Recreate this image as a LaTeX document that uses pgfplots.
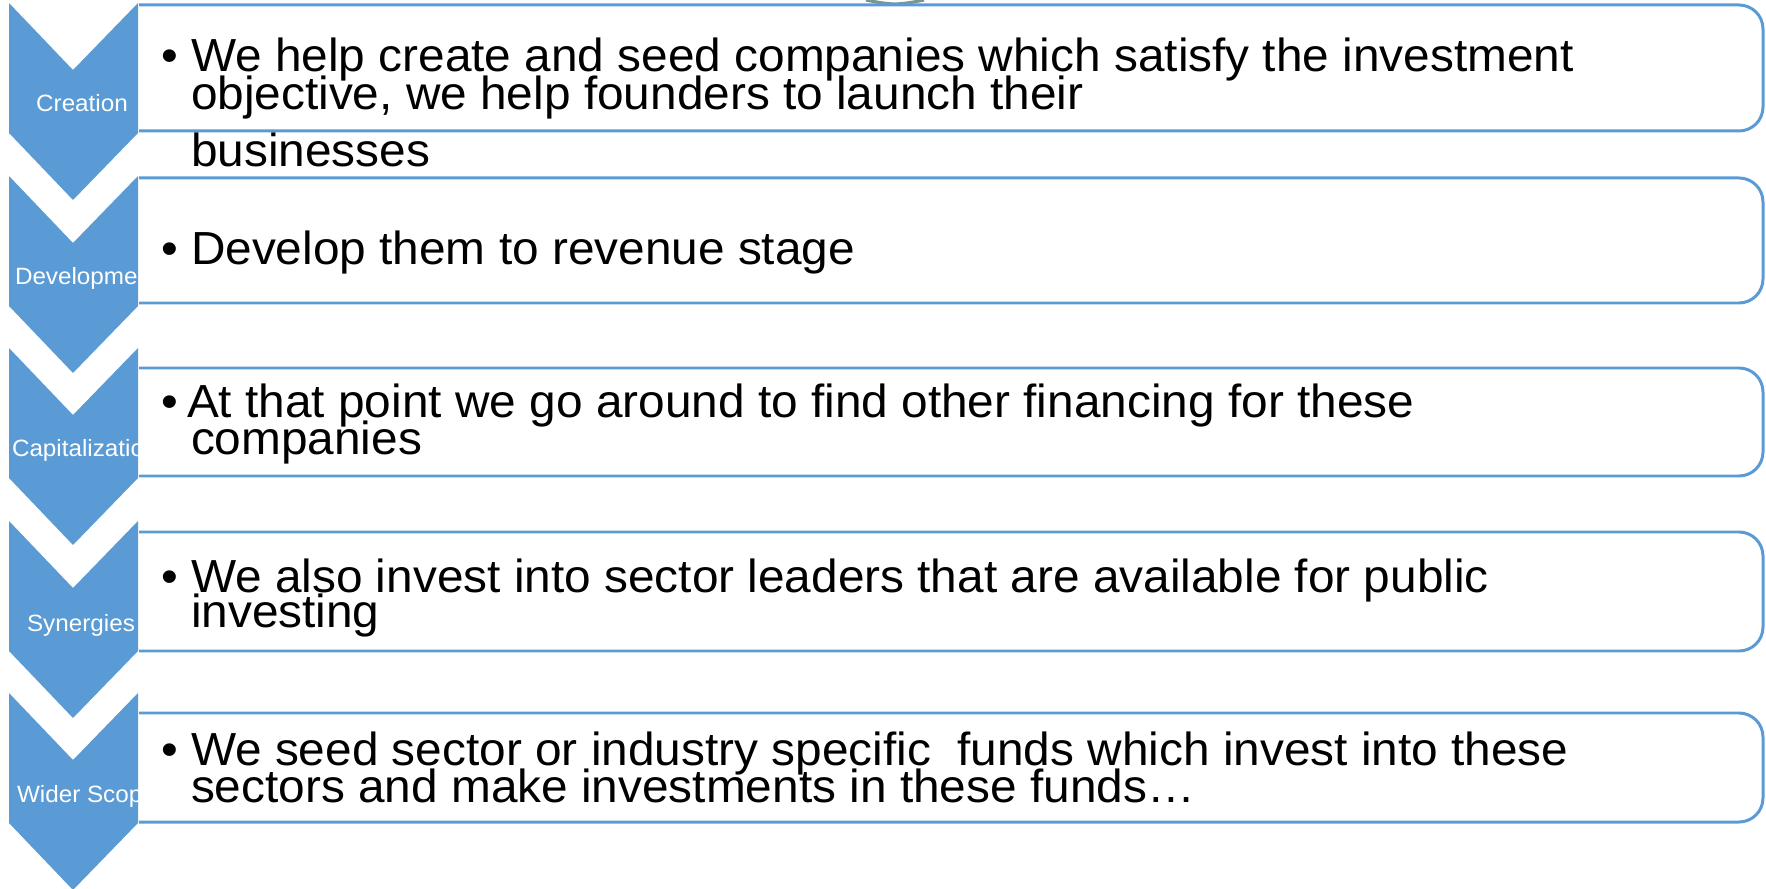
\documentclass[border=0pt]{standalone}
\usepackage{pgfplots}
\pgfplotsset{compat=1.18}
\usepackage{fontspec}
\setmainfont{Liberation Sans}[FakeStretch=1.03]
\definecolor{chev}{RGB}{91,155,213}
\definecolor{ring}{RGB}{120,150,150}
% 1 unit = 1 px of the 1766x889 reference
\newcommand{\boxfont}{\fontsize{13.2}{15}\selectfont}
\newcommand{\labfont}{\fontsize{6.7}{8}\selectfont}
\tikzset{lbl/.style={inner sep=0pt, outer sep=0pt, text=white, font=\labfont},
         txt/.style={inner sep=0pt, outer sep=0pt, anchor=base west, font=\boxfont}}
\begin{document}
\begin{tikzpicture}
\begin{axis}[
    width=17.66cm, height=8.89cm, scale only axis,
    xmin=0, xmax=1766, ymin=0, ymax=889, y dir=reverse,
    hide axis, clip=true,
]
\addplot[draw=none] coordinates {(0,0) (1766,889)};
% chevrons
\addplot[fill=chev, draw=none] coordinates {(9,3) (73,70) (138,3) (138,133) (73,200) (9,133)} -- cycle;
\addplot[fill=chev, draw=none] coordinates {(9,176) (73,243) (138,176) (138,306) (73,373) (9,306)} -- cycle;
\addplot[fill=chev, draw=none] coordinates {(9,348) (73,415) (138,348) (138,478) (73,545) (9,478)} -- cycle;
\addplot[fill=chev, draw=none] coordinates {(9,521) (73,588) (138,521) (138,651) (73,718) (9,651)} -- cycle;
\addplot[fill=chev, draw=none] coordinates {(9,693) (73,760) (138,693) (138,823) (73,890) (9,823)} -- cycle;
% chevron labels
\node[lbl, anchor=base] at (axis cs:82,112) {Creation};
\node[lbl, anchor=base west] at (axis cs:15,285) {Development};
\node[lbl, anchor=base west] at (axis cs:12,457) {Capitalization};
\node[lbl, anchor=base] at (axis cs:81,631) {Synergies};
\node[lbl, anchor=base west] at (axis cs:17,802) {Wider Scope};
% ring peeking in at the top
\addplot[ring, line width=0.9pt, smooth] coordinates {(866,0) (880,2.6) (895,4) (910,2.6) (924,0)};
% text boxes
\addplot[draw=chev, fill=white, line width=0.85pt, rounded corners=2.4mm] coordinates {(139,5) (1763,5) (1763,131) (139,131)};
\addplot[draw=chev, fill=white, line width=0.85pt, rounded corners=2.4mm] coordinates {(139,178) (1763,178) (1763,303) (139,303)};
\addplot[draw=chev, fill=white, line width=0.85pt, rounded corners=2.4mm] coordinates {(139,368) (1763,368) (1763,476) (139,476)};
\addplot[draw=chev, fill=white, line width=0.85pt, rounded corners=2.4mm] coordinates {(139,532) (1763,532) (1763,651) (139,651)};
\addplot[draw=chev, fill=white, line width=0.85pt, rounded corners=2.4mm] coordinates {(139,713) (1763,713) (1763,822) (139,822)};
% box texts
\node[txt] at (axis cs:161,72) {•};
\node[txt] at (axis cs:191,72) {We help create and seed companies which satisfy the investment};
\node[txt] at (axis cs:191,110) {objective, we help founders to launch their};
\node[txt] at (axis cs:191,167) {businesses};
\node[txt] at (axis cs:161,265) {•};
\node[txt] at (axis cs:191,265) {Develop them to revenue stage};
\node[txt] at (axis cs:161,418) {•};
\node[txt] at (axis cs:187,418) {At that point we go around to find other financing for these};
\node[txt] at (axis cs:191,455) {companies};
\node[txt] at (axis cs:161,592) {•};
\node[txt] at (axis cs:191,592) {We also invest into sector leaders that are available for public};
\node[txt] at (axis cs:191,627) {investing};
\node[txt] at (axis cs:161,765) {•};
\node[txt] at (axis cs:191,765) {We seed sector or industry specific\ \ funds which invest into these};
\node[txt] at (axis cs:191,802) {sectors and make investments in these funds…};
\end{axis}
\end{tikzpicture}
\end{document}
